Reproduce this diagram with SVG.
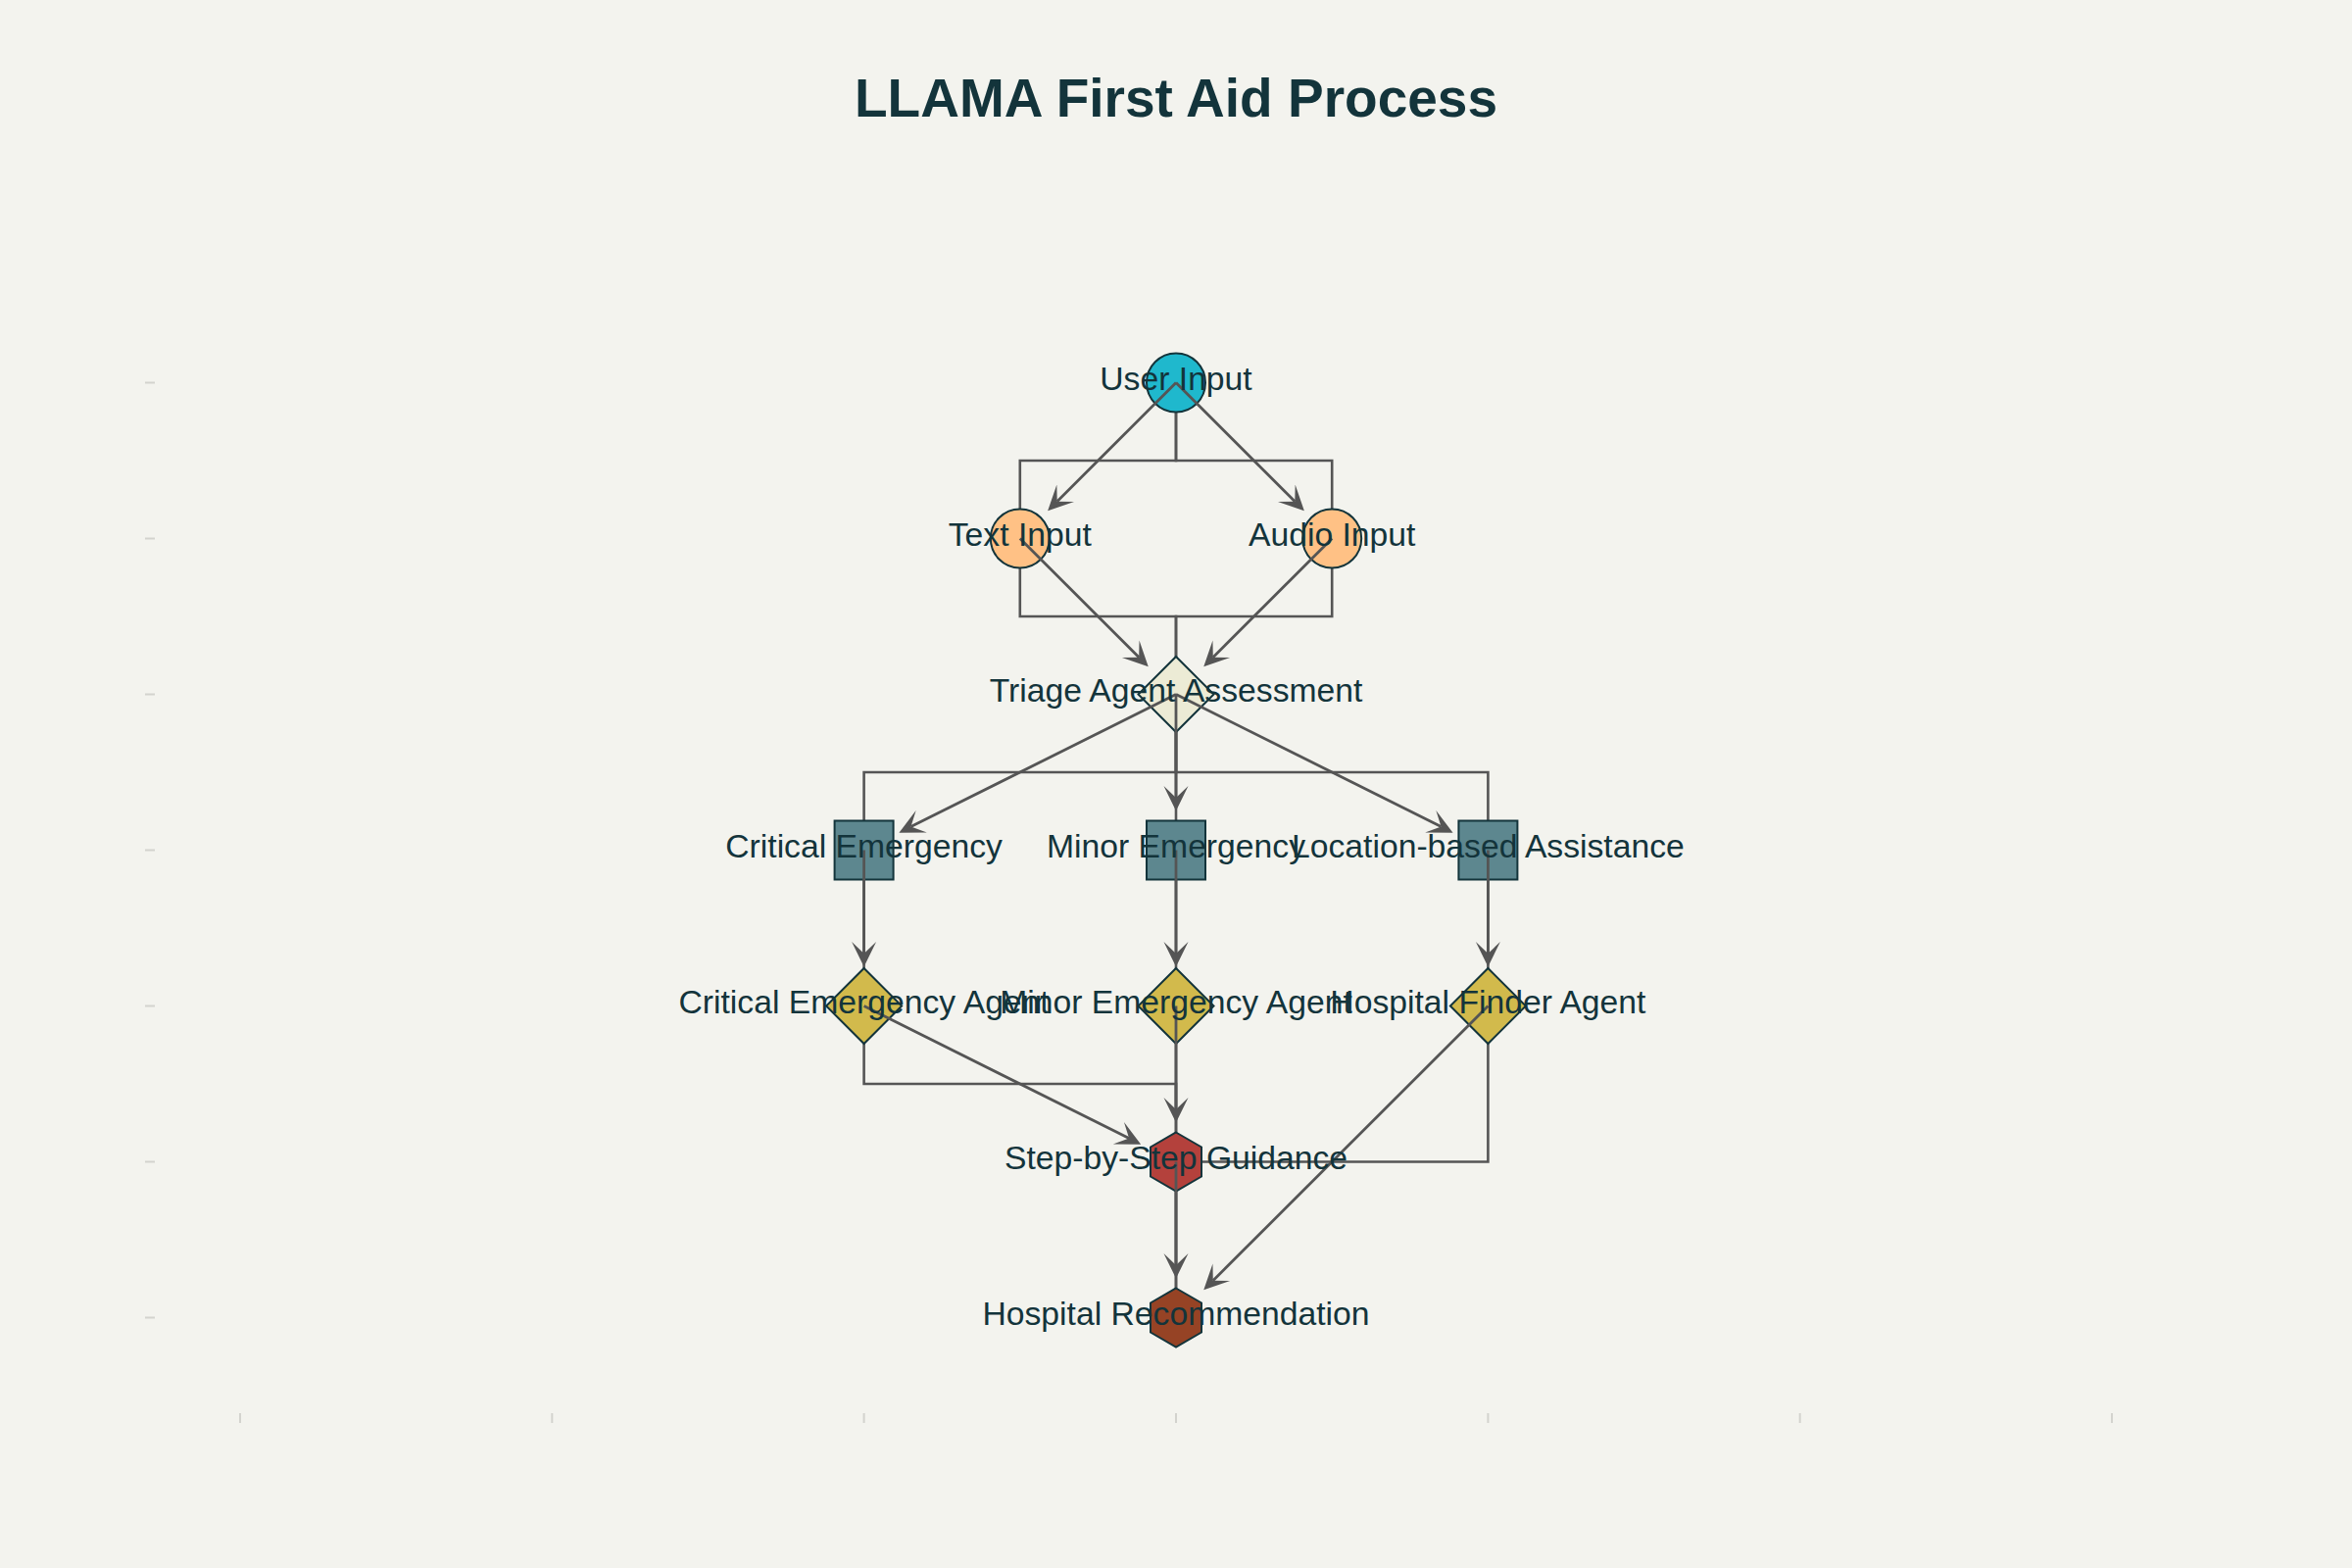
<svg xmlns="http://www.w3.org/2000/svg" width="2400" height="1600" viewBox="0 0 2400 1600">
<style>
.bg{fill:#F3F3EE}
.title{font-family:"Liberation Sans",Arial,sans-serif;font-size:55px;font-weight:bold;fill:#13343B;text-anchor:middle}
.lbl{font-family:"Liberation Sans",Arial,sans-serif;font-size:33.7px;fill:#13343B;text-anchor:middle}
.node{stroke:#13343B;stroke-width:2}
.elbow{fill:none;stroke:#555555;stroke-width:2.6}
.arrow{fill:none;stroke:#555555;stroke-width:2.8;marker-end:url(#ah)}
.tick{stroke:#D3D3CE;stroke-width:2}
</style>
<defs>
<marker id="ah" markerUnits="userSpaceOnUse" markerWidth="30" markerHeight="30" viewBox="0 -15 30 30" refX="12" refY="0" orient="auto">
<path d="M0,-12.5 L25.5,0 L0,12.5 L12,0 Z" fill="#555555"/>
</marker>
</defs>
<rect class="bg" x="0" y="0" width="2400" height="1600"/>
<g id="axes">
<line class="tick" x1="148" y1="390.5" x2="158" y2="390.5"/>
<line class="tick" x1="148" y1="549.5" x2="158" y2="549.5"/>
<line class="tick" x1="148" y1="708.5" x2="158" y2="708.5"/>
<line class="tick" x1="148" y1="867.5" x2="158" y2="867.5"/>
<line class="tick" x1="148" y1="1026.5" x2="158" y2="1026.5"/>
<line class="tick" x1="148" y1="1185.5" x2="158" y2="1185.5"/>
<line class="tick" x1="148" y1="1344.5" x2="158" y2="1344.5"/>
<line class="tick" x1="245" y1="1442" x2="245" y2="1452"/>
<line class="tick" x1="563.3" y1="1442" x2="563.3" y2="1452"/>
<line class="tick" x1="881.6" y1="1442" x2="881.6" y2="1452"/>
<line class="tick" x1="1200" y1="1442" x2="1200" y2="1452"/>
<line class="tick" x1="1518.4" y1="1442" x2="1518.4" y2="1452"/>
<line class="tick" x1="1836.7" y1="1442" x2="1836.7" y2="1452"/>
<line class="tick" x1="2155" y1="1442" x2="2155" y2="1452"/>
</g>
<text class="title" x="1200" y="119">LLAMA First Aid Process</text>
<g id="elbows">
<path class="elbow" d="M1200,390.5 V470 H1040.8 V549.5"/>
<path class="elbow" d="M1200,390.5 V470 H1359.2 V549.5"/>
<path class="elbow" d="M1040.8,549.5 V629 H1200 V708.5"/>
<path class="elbow" d="M1359.2,549.5 V629 H1200 V708.5"/>
<path class="elbow" d="M1200,708.5 V788 H881.6 V867.5"/>
<path class="elbow" d="M1200,708.5 V867.5"/>
<path class="elbow" d="M1200,708.5 V788 H1518.4 V867.5"/>
<path class="elbow" d="M881.6,867.5 V1026.5"/>
<path class="elbow" d="M1200,867.5 V1026.5"/>
<path class="elbow" d="M1518.4,867.5 V1026.5"/>
<path class="elbow" d="M881.6,1026.5 V1106 H1200 V1185.5"/>
<path class="elbow" d="M1200,1026.5 V1185.5"/>
<path class="elbow" d="M1518.4,1026.5 V1185.5 H1200 V1344.5"/>
<path class="elbow" d="M1200,1185.5 V1344.5"/>
</g>
<g id="n-user-input"><circle class="node" cx="1200" cy="390.5" r="30" fill="#1FB8CD"/></g>
<g id="n-text-input"><circle class="node" cx="1040.8" cy="549.5" r="30" fill="#FFC185"/></g>
<g id="n-audio-input"><circle class="node" cx="1359.2" cy="549.5" r="30" fill="#FFC185"/></g>
<g id="n-triage"><polygon class="node" points="1200,670 1238.5,708.5 1200,747 1161.5,708.5" fill="#ECEBD5"/></g>
<g id="n-critical"><rect class="node" x="851.6" y="837.5" width="60" height="60" fill="#5D878F"/></g>
<g id="n-minor"><rect class="node" x="1170" y="837.5" width="60" height="60" fill="#5D878F"/></g>
<g id="n-location"><rect class="node" x="1488.4" y="837.5" width="60" height="60" fill="#5D878F"/></g>
<g id="n-critical-agent"><polygon class="node" points="881.6,988 920.1,1026.5 881.6,1065 843.1,1026.5" fill="#D2BA4C"/></g>
<g id="n-minor-agent"><polygon class="node" points="1200,988 1238.5,1026.5 1200,1065 1161.5,1026.5" fill="#D2BA4C"/></g>
<g id="n-hospital-finder"><polygon class="node" points="1518.4,988 1556.9,1026.5 1518.4,1065 1479.9,1026.5" fill="#D2BA4C"/></g>
<g id="n-step"><polygon class="node" points="1200,1155.5 1226,1170.5 1226,1200.5 1200,1215.5 1174,1200.5 1174,1170.5" fill="#B4413C"/></g>
<g id="n-hospital-rec"><polygon class="node" points="1200,1314.5 1226,1329.5 1226,1359.5 1200,1374.5 1174,1359.5 1174,1329.5" fill="#964325"/></g>
<g id="connectors">
<line class="arrow" x1="1200" y1="390.5" x2="1078.7" y2="511.7"/>
<line class="arrow" x1="1200" y1="390.5" x2="1321.3" y2="511.7"/>
<line class="arrow" x1="1040.8" y1="549.5" x2="1162.2" y2="670.7"/>
<line class="arrow" x1="1359.2" y1="549.5" x2="1237.8" y2="670.7"/>
<line class="arrow" x1="1200" y1="708.5" x2="929.5" y2="843.6"/>
<line class="arrow" x1="1200" y1="708.5" x2="1200" y2="814"/>
<line class="arrow" x1="1200" y1="708.5" x2="1470.5" y2="843.6"/>
<line class="arrow" x1="881.6" y1="867.5" x2="881.6" y2="973"/>
<line class="arrow" x1="1200" y1="867.5" x2="1200" y2="973"/>
<line class="arrow" x1="1518.4" y1="867.5" x2="1518.4" y2="973"/>
<line class="arrow" x1="881.6" y1="1026.5" x2="1152.1" y2="1161.6"/>
<line class="arrow" x1="1200" y1="1026.5" x2="1200" y2="1132"/>
<line class="arrow" x1="1518.4" y1="1026.5" x2="1237.8" y2="1306.7"/>
<line class="arrow" x1="1200" y1="1185.5" x2="1200" y2="1291"/>
</g>
<g id="labels">
<text class="lbl" x="1200" y="398">User Input</text>
<text class="lbl" x="1040.8" y="557">Text Input</text>
<text class="lbl" x="1359.2" y="557">Audio Input</text>
<text class="lbl" x="1200" y="716">Triage Agent Assessment</text>
<text class="lbl" x="881.6" y="875">Critical Emergency</text>
<text class="lbl" x="1200" y="875">Minor Emergency</text>
<text class="lbl" x="1518.4" y="875">Location-based Assistance</text>
<text class="lbl" x="881.6" y="1034">Critical Emergency Agent</text>
<text class="lbl" x="1200" y="1034">Minor Emergency Agent</text>
<text class="lbl" x="1518.4" y="1034">Hospital Finder Agent</text>
<text class="lbl" x="1200" y="1193">Step-by-Step Guidance</text>
<text class="lbl" x="1200" y="1352">Hospital Recommendation</text>
</g>
</svg>
